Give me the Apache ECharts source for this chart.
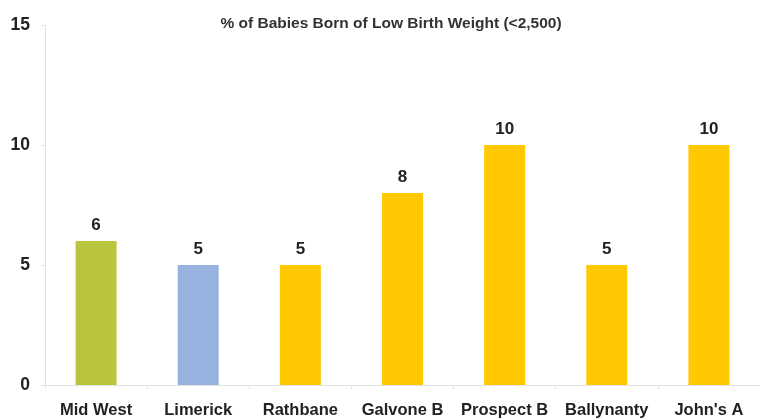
<!DOCTYPE html>
<html>
<head>
<meta charset="utf-8">
<script src="https://cdn.jsdelivr.net/npm/echarts@6/dist/echarts.min.js"></script>
<style>
  html, body { margin: 0; padding: 0; background: #ffffff; }
  #chart { width: 760px; height: 419px; }
</style>
</head>
<body>
<div id="chart"></div>
<script>
const categories = ['Mid West', 'Limerick', 'Rathbane', 'Galvone B', 'Prospect B', 'Ballynanty', "John's A"]
const values = [6, 5, 5, 8, 10, 5, 10]
const barColors = ['#bac43c', '#95b3de', '#ffc800', '#ffc800', '#ffc800', '#ffc800', '#ffc800']
const yTicks = [0, 5, 10, 15]

const chart = echarts.init(document.getElementById('chart'))
chart.setOption({
  backgroundColor: '#ffffff',
  animation: false,
  title: {
    text: '% of Babies Born of Low Birth Weight (<2,500)',
    left: 386,
    top: 11,
    textAlign: 'center',
    textStyle: {
      fontFamily: 'Liberation Sans, Arial, sans-serif',
      fontWeight: 'bold',
      fontSize: 15.5,
      color: '#333333'
    }
  },
  grid: {
    left: 45,
    right: 0,
    top: 25,
    bottom: 34
  },
  xAxis: {
    type: 'category',
    data: categories,
    axisLine: { lineStyle: { color: '#e2e2e2' } },
    axisTick: { show: true, length: 4, lineStyle: { color: '#e2e2e2' } },
    axisLabel: {
      interval: 0,
      margin: 17,
      fontFamily: 'Liberation Sans, Arial, sans-serif',
      fontWeight: 'bold',
      fontSize: 16.5,
      color: '#222222'
    }
  },
  yAxis: {
    type: 'value',
    min: yTicks[0],
    max: yTicks[yTicks.length - 1],
    interval: 5,
    axisLine: { show: true, lineStyle: { color: '#e2e2e2' } },
    axisTick: { show: true, length: 4, lineStyle: { color: '#e2e2e2' } },
    splitLine: { show: false },
    axisLabel: {
      margin: 15,
      fontFamily: 'Liberation Sans, Arial, sans-serif',
      fontWeight: 'bold',
      fontSize: 17.5,
      color: '#222222'
    }
  },
  series: [{
    type: 'bar',
    barWidth: 41,
    data: values.map((v, i) => ({ value: v, itemStyle: { color: barColors[i] } })),
    label: {
      show: true,
      position: 'top',
      distance: 7,
      fontFamily: 'Liberation Sans, Arial, sans-serif',
      fontWeight: 'bold',
      fontSize: 17,
      color: '#222222'
    }
  }]
})
</script>
</body>
</html>
